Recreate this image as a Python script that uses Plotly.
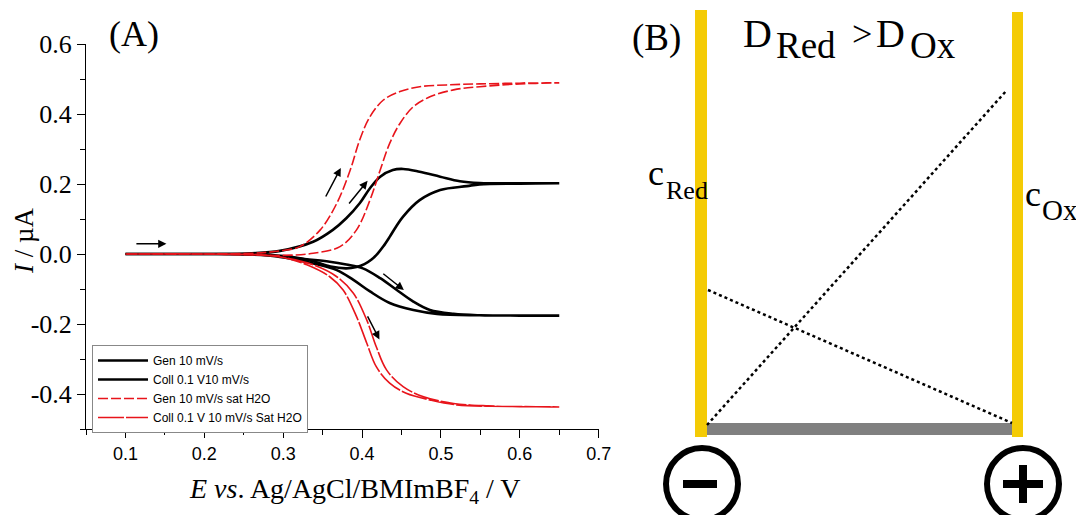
import plotly.graph_objects as go

W, H = 1084, 515
OFF = 8  # the page body margin shifts the figure by 8 px; coordinates below are page pixels

# ---------------- Panel A data (E / V, I / uA) ----------------
gen_fwd_E = [0.10, 0.20, 0.26, 0.296, 0.338, 0.363, 0.380, 0.397, 0.410, 0.423, 0.439, 0.452, 0.473, 0.499, 0.524, 0.549, 0.60, 0.65]
gen_fwd_I = [0.0, 0.0, 0.002, 0.009, 0.035, 0.069, 0.102, 0.145, 0.188, 0.221, 0.240, 0.243, 0.235, 0.221, 0.208, 0.203, 0.202, 0.202]
gen_rev_E = [0.65, 0.60, 0.549, 0.533, 0.499, 0.473, 0.452, 0.443, 0.435, 0.427, 0.420, 0.412, 0.403, 0.393, 0.38, 0.36, 0.338, 0.31, 0.28, 0.20, 0.10]
gen_rev_I = [0.202, 0.201, 0.199, 0.194, 0.183, 0.154, 0.107, 0.078, 0.049, 0.022, 0.002, -0.016, -0.029, -0.037, -0.041, -0.036, -0.021, -0.008, -0.002, 0.0, 0.0]

coll_fwd_E = [0.10, 0.20, 0.27, 0.296, 0.33, 0.359, 0.38, 0.401, 0.423, 0.444, 0.465, 0.486, 0.516, 0.549, 0.60, 0.65]
coll_fwd_I = [0.0, 0.0, -0.002, -0.008, -0.015, -0.022, -0.03, -0.041, -0.069, -0.103, -0.136, -0.160, -0.171, -0.175, -0.176, -0.176]
coll_rev_E = [0.65, 0.60, 0.55, 0.495, 0.465, 0.435, 0.41, 0.389, 0.368, 0.338, 0.313, 0.29, 0.25, 0.20, 0.10]
coll_rev_I = [-0.176, -0.176, -0.175, -0.171, -0.16, -0.14, -0.107, -0.074, -0.046, -0.027, -0.015, -0.006, -0.001, 0.0, 0.0]

gen_h2o_fwd_E = [0.10, 0.20, 0.26, 0.28, 0.296, 0.321, 0.347, 0.368, 0.385, 0.397, 0.410, 0.427, 0.448, 0.473, 0.507, 0.549, 0.60, 0.65]
gen_h2o_fwd_I = [0.0, 0.0, 0.002, 0.005, 0.009, 0.021, 0.069, 0.145, 0.24, 0.326, 0.392, 0.44, 0.464, 0.478, 0.483, 0.486, 0.488, 0.489]
gen_h2o_rev_E = [0.65, 0.60, 0.549, 0.516, 0.486, 0.465, 0.448, 0.435, 0.423, 0.41, 0.393, 0.372, 0.338, 0.30, 0.25, 0.20, 0.10]
gen_h2o_rev_I = [0.489, 0.486, 0.478, 0.469, 0.449, 0.421, 0.373, 0.316, 0.24, 0.154, 0.069, 0.021, 0.002, -0.004, -0.002, 0.0, 0.0]

coll_h2o_fwd_E = [0.10, 0.20, 0.27, 0.30, 0.338, 0.368, 0.389, 0.406, 0.418, 0.431, 0.452, 0.478, 0.516, 0.56, 0.60, 0.65]
coll_h2o_fwd_I = [0.0, 0.0, -0.002, -0.01, -0.031, -0.065, -0.112, -0.189, -0.265, -0.331, -0.379, -0.408, -0.427, -0.434, -0.436, -0.437]
coll_h2o_rev_E = [0.65, 0.60, 0.52, 0.486, 0.456, 0.435, 0.418, 0.406, 0.393, 0.376, 0.359, 0.33, 0.30, 0.27, 0.20, 0.10]
coll_h2o_rev_I = [-0.437, -0.436, -0.431, -0.417, -0.398, -0.369, -0.322, -0.255, -0.179, -0.103, -0.065, -0.031, -0.01, -0.003, 0.0, 0.0]

series_names = ["Gen 10 mV/s", "Coll 0.1 V10 mV/s", "Gen 10 mV/s sat H2O", "Coll 0.1 V 10 mV/s Sat H2O"]

x_tickvals = [0.1, 0.2, 0.3, 0.4, 0.5, 0.6, 0.7]
x_ticktext = ["0.1", "0.2", "0.3", "0.4", "0.5", "0.6", "0.7"]
y_tickvals = [0.6, 0.4, 0.2, 0.0, -0.2, -0.4]
y_ticktext = ["0.6", "0.4", "0.2", "0.0", "-0.2", "-0.4"]

# arrows: (tail E, tail I, head E, head I)
arrows = [
    (0.112, 0.029, 0.152, 0.029),
    (0.353, 0.160, 0.373, 0.246),
    (0.382, 0.140, 0.407, 0.209),
    (0.425, -0.053, 0.453, -0.103),
    (0.406, -0.174, 0.422, -0.244),
]

# ---------------- Panel B schematic (page-pixel coordinates) ----------------
electrode_left = (695, 707, 10, 437)
electrode_right = (1012, 1023, 12, 437)
gap_bar = (707, 1012, 423, 435)
profile_ox = ((707, 425), (1007, 90))
profile_red = ((708, 290), (1012, 423))
minus_circle = (702, 484, 36)
plus_circle = (1023, 484, 36)

YELLOW = "#F4CB05"
SERIF = "Liberation Serif"

fig = go.Figure()

def loop(a, b, c, d):
    return a + b, c + d

traces = [
    (loop(gen_fwd_E, gen_rev_E, gen_fwd_I, gen_rev_I), series_names[0], "black", 2.6, "solid"),
    (loop(coll_fwd_E, coll_rev_E, coll_fwd_I, coll_rev_I), series_names[1], "black", 2.6, "solid"),
    (loop(gen_h2o_fwd_E, gen_h2o_rev_E, gen_h2o_fwd_I, gen_h2o_rev_I), series_names[2], "#E8141B", 1.6, "10px,3px"),
    (loop(coll_h2o_fwd_E, coll_h2o_rev_E, coll_h2o_fwd_I, coll_h2o_rev_I), series_names[3], "#E8141B", 1.6, "26px,2px"),
]
for (xy, name, col, w, dash) in traces:
    fig.add_trace(go.Scatter(x=xy[0], y=xy[1], mode="lines", name=name,
                             line=dict(color=col, width=w, dash=dash, shape="spline", smoothing=1.0),
                             xaxis="x", yaxis="y"))

fig.add_trace(go.Scatter(x=[OFF, W + OFF], y=[OFF, H + OFF], mode="markers", marker=dict(opacity=0),
                         showlegend=False, hoverinfo="skip", xaxis="x2", yaxis="y2"))

# panel A plot area in page pixels
pa_left, pa_right, pa_top, pa_bottom = 86, 598.7, 44, 429
x0p, x1p = (pa_left - OFF) / W, (pa_right - OFF) / W
y0p, y1p = (H - (pa_bottom - OFF)) / H, (H - (pa_top - OFF)) / H

fig.update_layout(
    width=W, height=H,
    margin=dict(l=0, r=0, t=0, b=0, pad=0, autoexpand=False),
    paper_bgcolor="white", plot_bgcolor="rgba(0,0,0,0)",
    xaxis=dict(domain=[x0p, x1p], range=[0.05, 0.7], showgrid=False, zeroline=False,
               showline=True, linecolor="black", linewidth=1,
               tickmode="array", tickvals=x_tickvals, ticktext=x_ticktext,
               ticks="outside", ticklen=8, tickwidth=1, tickcolor="black",
               minor=dict(ticks="outside", ticklen=5, tickwidth=1, tickcolor="black", dtick=0.05, tick0=0.05),
               tickfont=dict(family="Liberation Sans", size=18, color="black")),
    yaxis=dict(domain=[y0p, y1p], range=[-0.5, 0.6], showgrid=False, zeroline=False,
               showline=True, linecolor="black", linewidth=1,
               tickmode="array", tickvals=y_tickvals, ticktext=y_ticktext,
               ticks="outside", ticklen=8, tickwidth=1, tickcolor="black",
               minor=dict(ticks="outside", ticklen=5, tickwidth=1, tickcolor="black", dtick=0.1, tick0=0.1),
               tickfont=dict(family=SERIF, size=26, color="black")),
    xaxis2=dict(domain=[0, 1], range=[OFF, W + OFF], visible=False, anchor="y2"),
    yaxis2=dict(domain=[0, 1], range=[H + OFF, OFF], visible=False, anchor="x2"),
    legend=dict(x=(92 - OFF) / W, y=(H - (345 - OFF)) / H, xanchor="left", yanchor="top",
                bgcolor="white", bordercolor="#888888", borderwidth=1,
                font=dict(family="Liberation Sans", size=12, color="black"),
                tracegroupgap=0, itemwidth=50, entrywidth=210, entrywidthmode="pixels"),
    showlegend=True,
)

for (te, ti, he, hi) in arrows:
    fig.add_annotation(x=he, y=hi, ax=te, ay=ti, xref="x", yref="y", axref="x", ayref="y",
                       text="", showarrow=True, arrowhead=2, arrowsize=1.1, arrowwidth=1.5,
                       arrowcolor="black")

fig.add_annotation(x=134, y=34, xref="x2", yref="y2", text="(A)", showarrow=False,
                   font=dict(family=SERIF, size=36, color="black"))
fig.add_annotation(x=355, y=490, xref="x2", yref="y2",
                   text="<i>E vs</i>. Ag/AgCl/BMImBF<sub>4</sub> / V", showarrow=False,
                   font=dict(family=SERIF, size=28, color="black"))
fig.add_annotation(x=24, y=241, xref="x2", yref="y2", text="<i>I</i> / µA", textangle=-90,
                   showarrow=False, font=dict(family=SERIF, size=27, color="black"))

for (xa, xb, ya, yb) in (electrode_left, electrode_right):
    fig.add_shape(type="rect", xref="x2", yref="y2", x0=xa, x1=xb, y0=ya, y1=yb,
                  fillcolor=YELLOW, line=dict(width=0))
fig.add_shape(type="rect", xref="x2", yref="y2", x0=gap_bar[0], x1=gap_bar[1], y0=gap_bar[2], y1=gap_bar[3],
              fillcolor="#808080", line=dict(width=0))
for (p, q) in (profile_ox, profile_red):
    fig.add_shape(type="line", xref="x2", yref="y2", x0=p[0], y0=p[1], x1=q[0], y1=q[1],
                  line=dict(color="black", width=2.5, dash="dot"))
for (cx, cy, r) in (minus_circle, plus_circle):
    fig.add_shape(type="circle", xref="x2", yref="y2", x0=cx - r, x1=cx + r, y0=cy - r, y1=cy + r,
                  line=dict(color="black", width=6))
fig.add_shape(type="rect", xref="x2", yref="y2", x0=minus_circle[0] - 19, x1=minus_circle[0] + 15,
              y0=minus_circle[1] - 4, y1=minus_circle[1] + 4, fillcolor="black", line=dict(width=0))
fig.add_shape(type="rect", xref="x2", yref="y2", x0=plus_circle[0] - 20, x1=plus_circle[0] + 20,
              y0=plus_circle[1] - 4, y1=plus_circle[1] + 4, fillcolor="black", line=dict(width=0))
fig.add_shape(type="rect", xref="x2", yref="y2", x0=plus_circle[0] - 4, x1=plus_circle[0] + 4,
              y0=plus_circle[1] - 19, y1=plus_circle[1] + 19, fillcolor="black", line=dict(width=0))

def txt(x, y, s, size, anchor="left"):
    fig.add_annotation(x=x, y=y, xref="x2", yref="y2", text=s, showarrow=False,
                       xanchor=anchor, yanchor="middle",
                       font=dict(family=SERIF, size=size, color="black"))

txt(656, 38, "(B)", 37, "center")
txt(741, 33, "D", 40)
txt(774, 45, "Red", 37)
txt(850, 34, ">", 36)
txt(874, 33, "D", 40)
txt(908, 45, "Ox", 37)
txt(646, 173, "c", 36)
txt(664, 190, "Red", 26)
txt(1023, 194, "c", 36)
txt(1040, 210, "Ox", 29)

fig.write_html("out.html")
